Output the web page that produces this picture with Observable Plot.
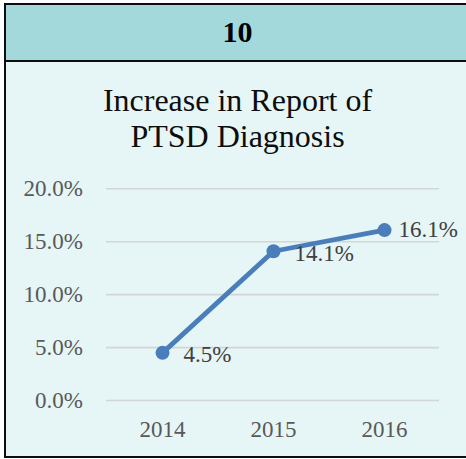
<!DOCTYPE html>
<html>
<head>
<meta charset="utf-8">
<script src="https://cdn.jsdelivr.net/npm/d3@7"></script>
<script src="https://cdn.jsdelivr.net/npm/@observablehq/plot@0.6"></script>
<style>
  html, body { margin: 0; padding: 0; background: #ffffff; overflow: hidden; width: 466px; height: 459px; }
  #box {
    position: absolute; left: 4px; top: 3px; width: 463px; height: 451px;
    border: 2px solid #0d0d0d; border-right: 2px solid #0d0d0d;
    background: #e6f5f5;
    font-family: "Liberation Serif", "Times New Roman", serif;
  }
  #header {
    position: absolute; left: 0; top: 0; width: 100%; height: 55px;
    background: #a3d9da; border-bottom: 2px solid #0d0d0d;
  }
  #num {
    position: absolute; left: 0; top: 10.2px; width: 100%; text-align: center;
    font-weight: bold; font-size: 30px; line-height: 34px; color: #000;
  }
  #title {
    position: absolute; left: 0; top: 77.9px; width: 100%; text-align: center;
    font-size: 32px; line-height: 35.7px; color: #0d0d0d;
  }
  #chart { position: absolute; left: 0; top: 57px; }
</style>
</head>
<body>
<div id="box">
  <div id="header"><div id="num">10</div></div>
  <div id="title">Increase in Report of<br>PTSD Diagnosis</div>
  <div id="chart"></div>
</div>
<script>
const years = ["2014", "2015", "2016"];
const values = [0.045, 0.141, 0.161];
const yTicks = [0, 0.05, 0.10, 0.15, 0.20];

const data = years.map((y, i) => ({year: y, value: values[i]}));
const fmt = d3.format(".1%");
const font = "Liberation Serif, 'Times New Roman', serif";
const blue = "#4a7ebb";
const last = data.length - 1;

const chart = Plot.plot({
  width: 460,
  height: 394,
  marginLeft: 100,
  marginRight: 27,
  marginTop: 126.3,
  marginBottom: 56,
  style: {background: "transparent", fontFamily: font, fontSize: "23px", overflow: "visible"},
  x: {type: "point", domain: years, padding: 0.5},
  y: {domain: [0, 0.2]},
  marks: [
    Plot.ruleY(yTicks, {stroke: "#d3d6d6", strokeWidth: 1.6}),
    Plot.axisY({ticks: yTicks, tickFormat: fmt, tickSize: 0, tickPadding: 23.5, fontSize: 23, fill: "#595959", label: null}),
    Plot.axisX({tickSize: 0, tickPadding: 20.4, fontSize: 23, fill: "#595959", label: null}),
    Plot.line(data, {x: "year", y: "value", stroke: blue, strokeWidth: 4.8}),
    Plot.dot(data, {x: "year", y: "value", r: 7, fill: blue, stroke: null}),
    Plot.text(data, {filter: (d, i) => i < last, x: "year", y: "value", text: d => fmt(d.value), textAnchor: "start", dx: 21, dy: 2, fontSize: 23, fill: "#404040"}),
    Plot.text(data, {filter: (d, i) => i === last, x: "year", y: "value", text: d => fmt(d.value), textAnchor: "start", dx: 14, dy: 0, fontSize: 23, fill: "#404040"})
  ]
});
document.getElementById("chart").appendChild(chart);
</script>
</body>
</html>
